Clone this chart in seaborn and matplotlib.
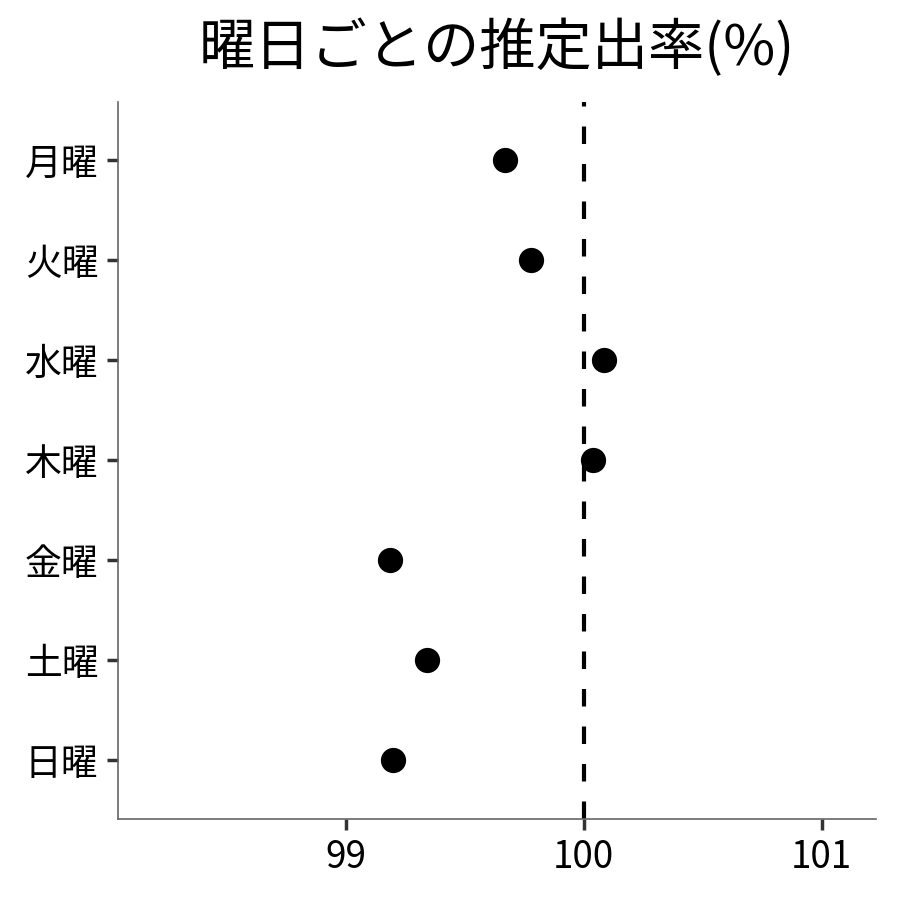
import numpy as np
import pandas as pd
import matplotlib
matplotlib.use('Agg')
import matplotlib.pyplot as plt
import seaborn as sns

# データ
days = ['月曜', '火曜', '水曜', '木曜', '金曜', '土曜', '日曜']
rates = [99.67, 99.78, 100.085, 100.04, 99.185, 99.34, 99.20]
x_ticks = [99, 100, 101]

df = pd.DataFrame({'day': days, 'rate': rates})

sns.set_theme(style='white')
plt.rcParams['font.family'] = ['Noto Sans CJK JP', 'DejaVu Sans']

fig = plt.figure(figsize=(9, 9), dpi=100)
ax = fig.add_axes([0.131, 0.09, 0.842, 0.797])

# 基準線
ax.axvline(100, color='black', linestyle=(0, (4.2, 4.8)), linewidth=3, zorder=1)

sns.scatterplot(data=df, x='rate', y='day', color='black', s=330,
                edgecolor='black', linewidth=0, ax=ax, zorder=3)

ax.set_xlim(98.042, 101.227)
ax.set_ylim(6.59, -0.58)
ax.set_xticks(x_ticks)
ax.set_xticklabels([str(t) for t in x_ticks])
ax.set_xlabel('')
ax.set_ylabel('')
ax.set_title('曜日ごとの推定出率(%)', fontsize=40.5, pad=26, color='black')

ax.tick_params(axis='both', labelsize=26.5, length=8, width=2.5,
               color='#333333', labelcolor='black', direction='out', pad=6)
ax.tick_params(axis='both', which='both', bottom=True, left=True)

for side in ['top', 'right']:
    ax.spines[side].set_visible(False)
for side in ['left', 'bottom']:
    ax.spines[side].set_color('#666666')
    ax.spines[side].set_linewidth(1.2)

plt.savefig('out.png', dpi=100)
